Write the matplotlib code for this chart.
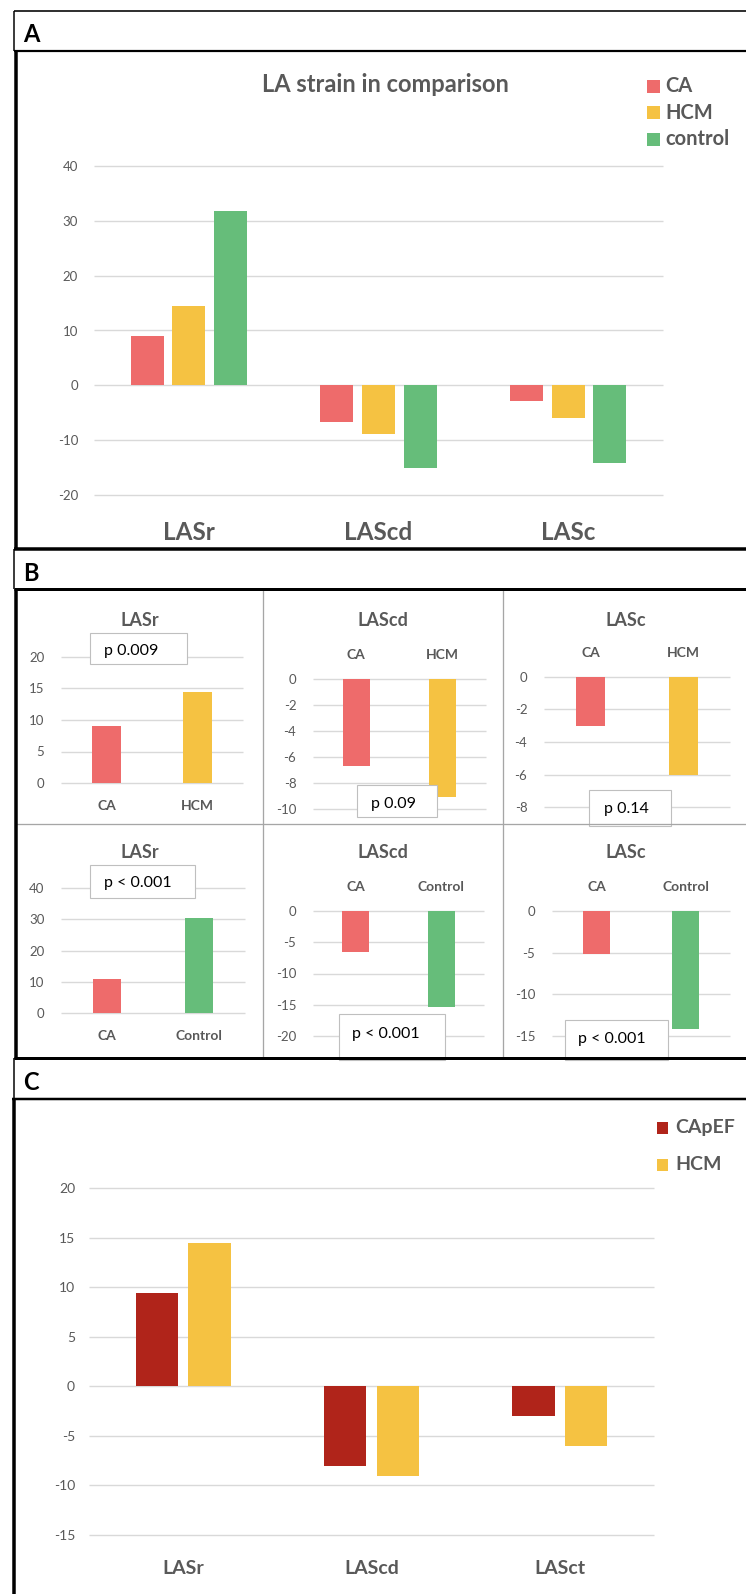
import numpy as np
import matplotlib
matplotlib.use('Agg')
import matplotlib.pyplot as plt
from matplotlib.patches import Rectangle

plt.rcParams['font.family'] = ['Lato', 'DejaVu Sans']
plt.rcParams['axes.unicode_minus'] = False

# ---------------- data ----------------
# Panel A
groups_A = ['LASr', 'LAScd', 'LASc']
series_A = ['CA', 'HCM', 'control']
ca_A = [9.0, -6.6, -2.9]
hcm_A = [14.4, -8.9, -6.0]
control_A = [31.8, -15.0, -14.2]

# Panel B (top row: CA vs HCM, bottom row: CA vs Control)
titles_B = ['LASr', 'LAScd', 'LASc']
ca_vs_hcm_ca = [9.0, -6.7, -3.0]
ca_vs_hcm_hcm = [14.5, -9.1, -6.0]
p_top = ['p 0.009', 'p 0.09', 'p 0.14']
ca_vs_ctrl_ca = [10.8, -6.6, -5.1]
ca_vs_ctrl_ctrl = [30.5, -15.3, -14.2]
p_bottom = ['p < 0.001', 'p < 0.001', 'p < 0.001']
ticks_top = [[0, 5, 10, 15, 20], [-10, -8, -6, -4, -2, 0], [-8, -6, -4, -2, 0]]
ticks_bottom = [[0, 10, 20, 30, 40], [-20, -15, -10, -5, 0], [-15, -10, -5, 0]]

# Panel C
groups_C = ['LASr', 'LAScd', 'LASct']
series_C = ['CApEF', 'HCM']
capef_C = [9.4, -8.0, -3.0]
hcm_C = [14.5, -9.0, -6.0]

# ---------------- style ----------------
RED = '#EE6B6B'
YEL = '#F5C242'
GRN = '#66BD7A'
DRED = '#B0241A'
GREY_TXT = '#595959'
GRID = '#D9D9D9'

W, H = 746, 1594
fig = plt.figure(figsize=(W / 100, H / 100), dpi=100)
fig.patch.set_facecolor('white')


def px_axes(x0, x1, ytop, ybot):
    return fig.add_axes([x0 / W, 1 - ybot / H, (x1 - x0) / W, (ybot - ytop) / H])


def style_ax(ax, ticks, xmin, xmax, ypad, fs):
    ax.set_ylim(min(ticks), max(ticks))
    ax.set_xlim(xmin, xmax)
    ax.set_yticks(ticks)
    ax.hlines(ticks, xmin, xmax, colors=GRID, lw=1.0, clip_on=False, zorder=0)
    for s in ax.spines.values():
        s.set_visible(False)
    ax.tick_params(axis='y', length=0, pad=ypad, labelsize=fs, labelcolor=GREY_TXT)
    ax.set_facecolor('none')


# ---------------- Panel A ----------------
axA = px_axes(94, 663, 166, 495)
xA = np.arange(len(groups_A))
for vals, col, off in zip([ca_A, hcm_A, control_A], [RED, YEL, GRN], [-0.22, 0, 0.22]):
    axA.bar(xA + off, vals, width=0.175, color=col, zorder=2)
style_ax(axA, [-20, -10, 0, 10, 20, 30, 40], -0.5, 2.5, 11.5, 9.5)
axA.set_xticks(xA)
axA.set_xticklabels(groups_A, fontsize=17.5, fontweight='bold', color=GREY_TXT)
axA.tick_params(axis='x', length=0, pad=19)

# ---------------- Panel B ----------------
boxes_B = [(61, 243, 657, 783), (313, 486, 679, 809), (544, 730, 677, 807),
           (61, 245, 888, 1013), (313, 484, 911, 1036), (552, 730, 911, 1036)]
rows_B = [(ca_vs_hcm_ca, ca_vs_hcm_hcm, ['CA', 'HCM'], YEL, ticks_top),
          (ca_vs_ctrl_ca, ca_vs_ctrl_ctrl, ['CA', 'Control'], GRN, ticks_bottom)]
k = 0
for ca_vals, other_vals, labels, col2, tick_row in rows_B:
    for j in range(3):
        x0, x1, yt, yb = boxes_B[k]
        ax = px_axes(x0, x1, yt, yb)
        ax.bar([0, 1], [ca_vals[j], other_vals[j]], width=0.31, color=[RED, col2], zorder=2)
        style_ax(ax, tick_row[j], -0.5, 1.5, 12, 9.5)
        ax.set_xticks([0, 1])
        ax.set_xticklabels(labels, fontsize=10, fontweight='bold', color=GREY_TXT)
        if ca_vals[j] < 0:
            ax.xaxis.tick_top()
            ax.tick_params(axis='x', length=0, pad=13)
        else:
            ax.tick_params(axis='x', length=0, pad=12)
        k += 1

# ---------------- Panel C ----------------
axC = px_axes(89, 654, 1188, 1535)
xC = np.arange(len(groups_C))
for vals, col, off in zip([capef_C, hcm_C], [DRED, YEL], [-0.14, 0.14]):
    axC.bar(xC + off, vals, width=0.225, color=col, zorder=2)
style_ax(axC, [-15, -10, -5, 0, 5, 10, 15, 20], -0.5, 2.5, 10, 10)
axC.set_xticks(xC)
axC.set_xticklabels(groups_C, fontsize=14, fontweight='bold', color=GREY_TXT)
axC.tick_params(axis='x', length=0, pad=18)

# ---------------- overlay: frames, labels, legends, p boxes ----------------
ov = fig.add_axes([0, 0, 1, 1], zorder=5)
ov.set_xlim(0, W)
ov.set_ylim(H, 0)
ov.axis('off')
ov.patch.set_alpha(0)


def hline(y, x0, x1, lw_px, col='black'):
    ov.plot([x0, x1], [y, y], color=col, lw=lw_px * 0.72, solid_capstyle='butt', zorder=6)


def vline(x, y0, y1, lw_px, col='black'):
    ov.plot([x, x], [y0, y1], color=col, lw=lw_px * 0.72, solid_capstyle='butt', zorder=6)


# p-value boxes
p_boxes = [(90, 633, 187, 664), (357, 785, 437, 817), (589, 790, 671, 826),
           (90, 865, 195, 898), (339, 1014, 445, 1060), (565, 1020, 668, 1060)]
p_text_pos = [(104, 651), (371, 804), (604, 809), (104, 883), (352, 1034), (578, 1039)]
for (bx0, by0, bx1, by1), (tx, ty), txt in zip(p_boxes, p_text_pos, p_top + p_bottom):
    ov.add_patch(Rectangle((bx0, by0), bx1 - bx0, by1 - by0, facecolor='white',
                           edgecolor='#BFBFBF', lw=0.8, zorder=3))
    ov.text(tx, ty, txt, fontsize=11.5, color='black', ha='left', va='center', zorder=4)

# subpanel separators in B
sep = '#A6A6A6'
vline(263, 589, 1058, 1.3, sep)
vline(503, 589, 1058, 1.3, sep)
hline(824, 16, W, 1.3, sep)

# outer frames
hline(11, 14, W, 1.6)
vline(14, 11, 51, 1.5)
hline(50.5, 14, W, 2.2)
vline(15.7, 50, 549, 3.5)
hline(548.5, 14, W, 3.5)
vline(14, 549, 589, 1.5)
hline(589, 14, W, 3)
vline(16, 589, 1059, 3.5)
hline(1058, 14, W, 3)
vline(14, 1058, 1099, 1.5)
hline(1099, 12, W, 2.5)
vline(13.7, 1099, H, 3.5)

# panel letters
for letter, y in zip(['A', 'B', 'C'], [34, 573, 1083]):
    ov.text(23, y, letter, fontsize=17, fontweight='bold', color='black', ha='left', va='center')

# titles
ov.text(385, 84, 'LA strain in comparison', fontsize=17, fontweight='bold', color=GREY_TXT,
        ha='center', va='center')
for j, t in enumerate(titles_B):
    cx = [139.5, 383, 626][j]
    ov.text(cx, 620, t, fontsize=13, fontweight='bold', color=GREY_TXT, ha='center', va='center')
    ov.text(cx, 852, t, fontsize=13, fontweight='bold', color=GREY_TXT, ha='center', va='center')

# legends
for i, (name, col) in enumerate(zip(series_A, [RED, YEL, GRN])):
    y = 86 + i * 26.5
    ov.add_patch(Rectangle((647, y - 6.5), 13, 13, facecolor=col, edgecolor='none'))
    ov.text(665, y, name, fontsize=14.5, fontweight='bold', color=GREY_TXT, ha='left', va='center')
for i, (name, col) in enumerate(zip(series_C, [DRED, YEL])):
    y = 1128 + i * 37
    ov.add_patch(Rectangle((657, y - 6), 11, 12, facecolor=col, edgecolor='none'))
    ov.text(675, y, name, fontsize=14, fontweight='bold', color=GREY_TXT, ha='left', va='center')

plt.savefig('out.png', dpi=100)
